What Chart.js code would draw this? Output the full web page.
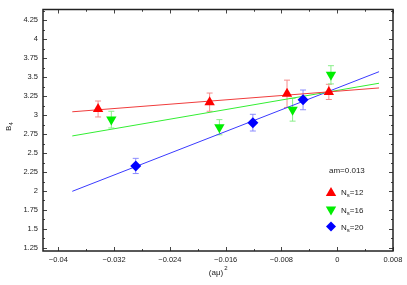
<!DOCTYPE html>
<html lang="en">
<head>
<meta charset="UTF-8">
<title>B4 vs (a mu)^2</title>
<style>
  body { margin: 0; background: #fff; }
  #wrap { width: 407px; height: 285px; }
</style>
</head>
<body>
<div id="wrap"><canvas id="chart"></canvas></div>
<script src="https://cdn.jsdelivr.net/npm/chart.js"></script>
<script>
// values
const xTicks = [-0.04, -0.032, -0.024, -0.016, -0.008, 0, 0.008];
const yTicks = [1.25, 1.5, 1.75, 2, 2.25, 2.5, 2.75, 3, 3.25, 3.5, 3.75, 4, 4.25];

const ns12X = [-0.0343, -0.0183, -0.0072, -0.0012];
const ns12Y = [3.08, 3.17, 3.28, 3.305];
const ns12Err = [0.105, 0.12, 0.18, 0.10];

const ns16X = [-0.0324, -0.0169, -0.0064, -0.0009];
const ns16Y = [2.94, 2.84, 3.07, 3.53];
const ns16Err = [0.11, 0.10, 0.15, 0.12];

const ns20X = [-0.0289, -0.0121, -0.0049];
const ns20Y = [2.33, 2.90, 3.20];
const ns20Err = [0.10, 0.11, 0.13];

const fitX = [-0.038, 0.006];
const fit12 = [3.043, 3.357];
const fit16 = [2.725, 3.419];
const fit20 = [1.996, 3.571];

const legendNames = ['12', '16', '20'];
const noteText = 'am=0.013';

const FONT = '"Liberation Sans", Arial, sans-serif';

function pts(xs, ys) {
    return xs.map((x, i) => ({ x: x, y: ys[i] }));
}

function shape(ctx, kind, x, y, r) {
    ctx.beginPath();
    if (kind === 'up') {
        ctx.moveTo(x, y - r);
        ctx.lineTo(x + r * 0.866, y + r * 0.5);
        ctx.lineTo(x - r * 0.866, y + r * 0.5);
    } else if (kind === 'down') {
        ctx.moveTo(x, y + r);
        ctx.lineTo(x + r * 0.866, y - r * 0.5);
        ctx.lineTo(x - r * 0.866, y - r * 0.5);
    } else {
        ctx.moveTo(x, y - r);
        ctx.lineTo(x + r, y);
        ctx.lineTo(x, y + r);
        ctx.lineTo(x - r, y);
    }
    ctx.closePath();
    ctx.fill();
}

const extras = {
    id: 'extras',
    beforeDatasetsDraw(chart) {
        const ctx = chart.ctx;
        const xs = chart.scales.x, ys = chart.scales.y;
        ctx.save();
        ctx.lineWidth = 1;
        chart.data.datasets.forEach(ds => {
            if (!ds.errors) return;
            ctx.strokeStyle = ds.errColor;
            ds.data.forEach((p, i) => {
                const px = xs.getPixelForValue(p.x);
                const top = ys.getPixelForValue(p.y + ds.errors[i]);
                const bot = ys.getPixelForValue(p.y - ds.errors[i]);
                ctx.beginPath();
                ctx.moveTo(px, top); ctx.lineTo(px, bot);
                ctx.moveTo(px - 3, top); ctx.lineTo(px + 3, top);
                ctx.moveTo(px - 3, bot); ctx.lineTo(px + 3, bot);
                ctx.stroke();
            });
        });
        ctx.restore();
    },
    afterDraw(chart) {
        const ctx = chart.ctx;
        const a = chart.chartArea;
        const xs = chart.scales.x, ys = chart.scales.y;
        ctx.save();

        // ticks on all four sides, pointing inwards
        ctx.strokeStyle = '#444';
        ctx.lineWidth = 1;
        ctx.beginPath();
        for (let i = 0; i < xTicks.length; i++) {
            const px = Math.round(xs.getPixelForValue(xTicks[i])) + 0.5;
            ctx.moveTo(px, a.bottom); ctx.lineTo(px, a.bottom - 4);
            ctx.moveTo(px, a.top); ctx.lineTo(px, a.top + 4);
            const step = xTicks[1] - xTicks[0];
            [xTicks[i] - step / 2, xTicks[i] + step / 2].forEach(v => {
                const mx = Math.round(xs.getPixelForValue(v)) + 0.5;
                if (mx <= a.left + 1 || mx >= a.right - 1) return;
                ctx.moveTo(mx, a.bottom); ctx.lineTo(mx, a.bottom - 2);
                ctx.moveTo(mx, a.top); ctx.lineTo(mx, a.top + 2);
            });
        }
        for (let i = 0; i < yTicks.length; i++) {
            const py = Math.round(ys.getPixelForValue(yTicks[i])) + 0.5;
            ctx.moveTo(a.left, py); ctx.lineTo(a.left + 4, py);
            ctx.moveTo(a.right, py); ctx.lineTo(a.right - 4, py);
            const step = yTicks[1] - yTicks[0];
            [yTicks[i] - step / 2, yTicks[i] + step / 2].forEach(v => {
                const my = Math.round(ys.getPixelForValue(v)) + 0.5;
                if (my <= a.top + 1 || my >= a.bottom - 1) return;
                ctx.moveTo(a.left, my); ctx.lineTo(a.left + 2, my);
                ctx.moveTo(a.right, my); ctx.lineTo(a.right - 2, my);
            });
        }
        ctx.stroke();

        // frame
        ctx.strokeStyle = '#222';
        ctx.lineWidth = 1.5;
        ctx.strokeRect(a.left, a.top, a.right - a.left, a.bottom - a.top);

        // axis titles
        ctx.fillStyle = '#222';
        ctx.textBaseline = 'alphabetic';
        ctx.font = '8px ' + FONT;
        const xt = '(aμ)';
        const xw = ctx.measureText(xt).width;
        const cx = (a.left + a.right) / 2;
        ctx.textAlign = 'left';
        ctx.fillText(xt, cx - xw / 2 - 2, 275);
        ctx.font = '6px ' + FONT;
        ctx.fillText('2', cx + xw / 2 - 1, 270);

        ctx.save();
        ctx.translate(11, 126);
        ctx.rotate(-Math.PI / 2);
        ctx.font = '8px ' + FONT;
        ctx.textAlign = 'left';
        ctx.fillText('B', -5, 0);
        ctx.font = '6px ' + FONT;
        ctx.fillText('4', 0.5, 2);
        ctx.restore();

        // note and legend
        ctx.font = '8px ' + FONT;
        ctx.fillText(noteText, 329, 173);
        const kinds = ['up', 'down', 'diamond'];
        const colors = ['#ff0000', '#00ee00', '#0000ff'];
        const rowY = [192, 209.5, 226.5];
        for (let i = 0; i < 3; i++) {
            ctx.fillStyle = colors[i];
            shape(ctx, kinds[i], 331, rowY[i] + (i === 0 ? 1 : 0), i === 2 ? 5 : 6);
            ctx.fillStyle = '#222';
            ctx.font = '8px ' + FONT;
            ctx.fillText('N', 341, rowY[i] + 3);
            const nw = ctx.measureText('N').width;
            ctx.font = '6px ' + FONT;
            ctx.fillText('s', 341 + nw, rowY[i] + 5);
            const sw = ctx.measureText('s').width;
            ctx.font = '8px ' + FONT;
            ctx.fillText('=' + legendNames[i], 341 + nw + sw, rowY[i] + 3);
        }
        ctx.restore();
    }
};

function lineSet(ys, color) {
    return {
        data: pts(fitX, ys),
        showLine: true,
        borderColor: color,
        borderWidth: 1,
        pointRadius: 0,
        order: 2
    };
}

new Chart(document.getElementById('chart'), {
    type: 'scatter',
    data: {
        datasets: [
            lineSet(fit12, '#f03c3c'),
            lineSet(fit16, '#33ee33'),
            lineSet(fit20, '#3a3aff'),
            {
                data: pts(ns12X, ns12Y), errors: ns12Err, errColor: '#f58c8c',
                pointStyle: 'triangle', pointRadius: 6, borderWidth: 0,
                backgroundColor: '#ff0000', borderColor: '#ff0000', order: 1
            },
            {
                data: pts(ns16X, ns16Y), errors: ns16Err, errColor: '#88ee88',
                pointStyle: 'triangle', pointRotation: 180, pointRadius: 6, borderWidth: 0,
                backgroundColor: '#00ee00', borderColor: '#00ee00', order: 1
            },
            {
                data: pts(ns20X, ns20Y), errors: ns20Err, errColor: '#8c8cff',
                pointStyle: 'rectRot', pointRadius: 5.5, borderWidth: 0,
                backgroundColor: '#0000ff', borderColor: '#0000ff', order: 1
            }
        ]
    },
    options: {
        responsive: true,
        maintainAspectRatio: false,
        animation: false,
        layout: { padding: { top: 8, right: 14, left: 0, bottom: 0 } },
        plugins: {
            legend: { display: false },
            tooltip: { enabled: false }
        },
        scales: {
            x: {
                type: 'linear',
                min: -0.0422,
                max: 0.008,
                grid: { display: false, drawTicks: false },
                border: { display: false },
                afterBuildTicks: (s) => { s.ticks = xTicks.map(v => ({ value: v })); },
                afterFit: (s) => { s.height = 34; },
                ticks: {
                    padding: 4,
                    maxRotation: 0,
                    color: '#222',
                    font: { family: FONT, size: 7.5 },
                    callback: (v) => v === 0 ? '0' : String(v).replace('-', '\u2212')
                }
            },
            y: {
                type: 'linear',
                min: 1.21,
                max: 4.39,
                grid: { display: false, drawTicks: false },
                border: { display: false },
                afterBuildTicks: (s) => { s.ticks = yTicks.map(v => ({ value: v })); },
                afterFit: (s) => { s.width = 43; },
                ticks: {
                    padding: 5,
                    color: '#222',
                    font: { family: FONT, size: 7.5 },
                    callback: (v) => String(v)
                }
            }
        }
    },
    plugins: [extras]
});
</script>
</body>
</html>
